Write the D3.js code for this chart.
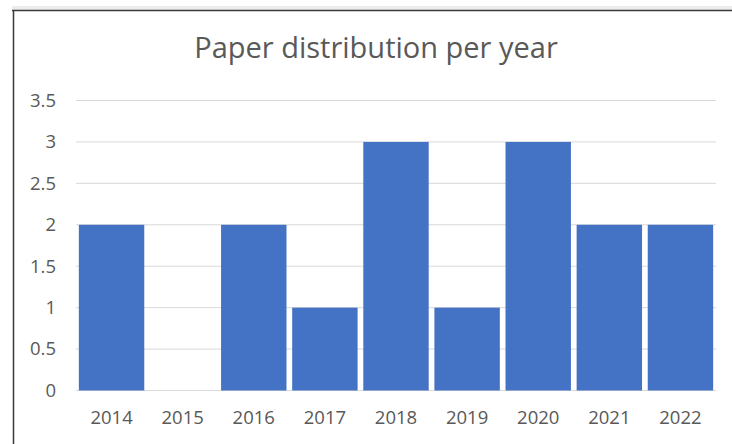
<!DOCTYPE html>
<html><head><meta charset="utf-8">
<script src="https://cdn.jsdelivr.net/npm/d3@7"></script>
<style>body{margin:0;background:#fff}svg{display:block}</style>
</head><body>
<svg id="c" width="732" height="444"></svg>
<script>
const years = ["2014","2015","2016","2017","2018","2019","2020","2021","2022"];
const papers = [2, 0, 2, 1, 3, 1, 3, 2, 2];
const yTicks = [0, 0.5, 1, 1.5, 2, 2.5, 3, 3.5];
const title = "Paper distribution per year";

const svg = d3.select("#c");
const W = 732, H = 444;

// frame
svg.append("rect").attr("x", 12).attr("y", 6).attr("width", W - 12).attr("height", 4).attr("fill", "#ececec");
svg.append("line").attr("x1", 12).attr("x2", W).attr("y1", 10.5).attr("y2", 10.5).attr("stroke", "#3a3a3a").attr("stroke-width", 1.5);
svg.append("line").attr("x1", 13.5).attr("x2", 13.5).attr("y1", 10).attr("y2", H).attr("stroke", "#3a3a3a").attr("stroke-width", 1.5);

const x = d3.scaleBand().domain(years).range([76, 716]).paddingInner(0.08).paddingOuter(0.04);
const y = d3.scaleLinear().domain([0, 3.5]).range([390.5, 100.5]);

// gridlines
svg.append("g").selectAll("line").data(yTicks).join("line")
  .attr("x1", 76).attr("x2", 716)
  .attr("y1", d => y(d)).attr("y2", d => y(d))
  .attr("stroke", "#d9d9d9").attr("stroke-width", 1);

// y axis labels
const yAxis = d3.axisLeft(y).tickValues(yTicks).tickSize(0).tickPadding(0).tickFormat(d => String(d));
const gy = svg.append("g").attr("transform", "translate(56,0)").call(yAxis);
gy.select(".domain").remove();
gy.selectAll("text").attr("font-family", "Open Sans").attr("font-size", 18.5).attr("fill", "#595959");

// bars
svg.append("g").selectAll("rect").data(papers).join("rect")
  .attr("x", (d, i) => x(years[i]))
  .attr("width", x.bandwidth())
  .attr("y", d => y(d))
  .attr("height", d => y(0) - y(d))
  .attr("fill", "#4472c4");

// x axis labels
const xAxis = d3.axisBottom(x).tickSize(0).tickPadding(0);
const gx = svg.append("g").attr("transform", "translate(0,411)").call(xAxis);
gx.select(".domain").remove();
gx.selectAll("text").attr("font-family", "Open Sans").attr("font-size", 18.5).attr("fill", "#595959");

// title
svg.append("text").attr("x", 376).attr("y", 58).attr("text-anchor", "middle")
  .attr("font-family", "Open Sans").attr("font-size", 29).attr("fill", "#595959").text(title);
</script>
</body></html>
